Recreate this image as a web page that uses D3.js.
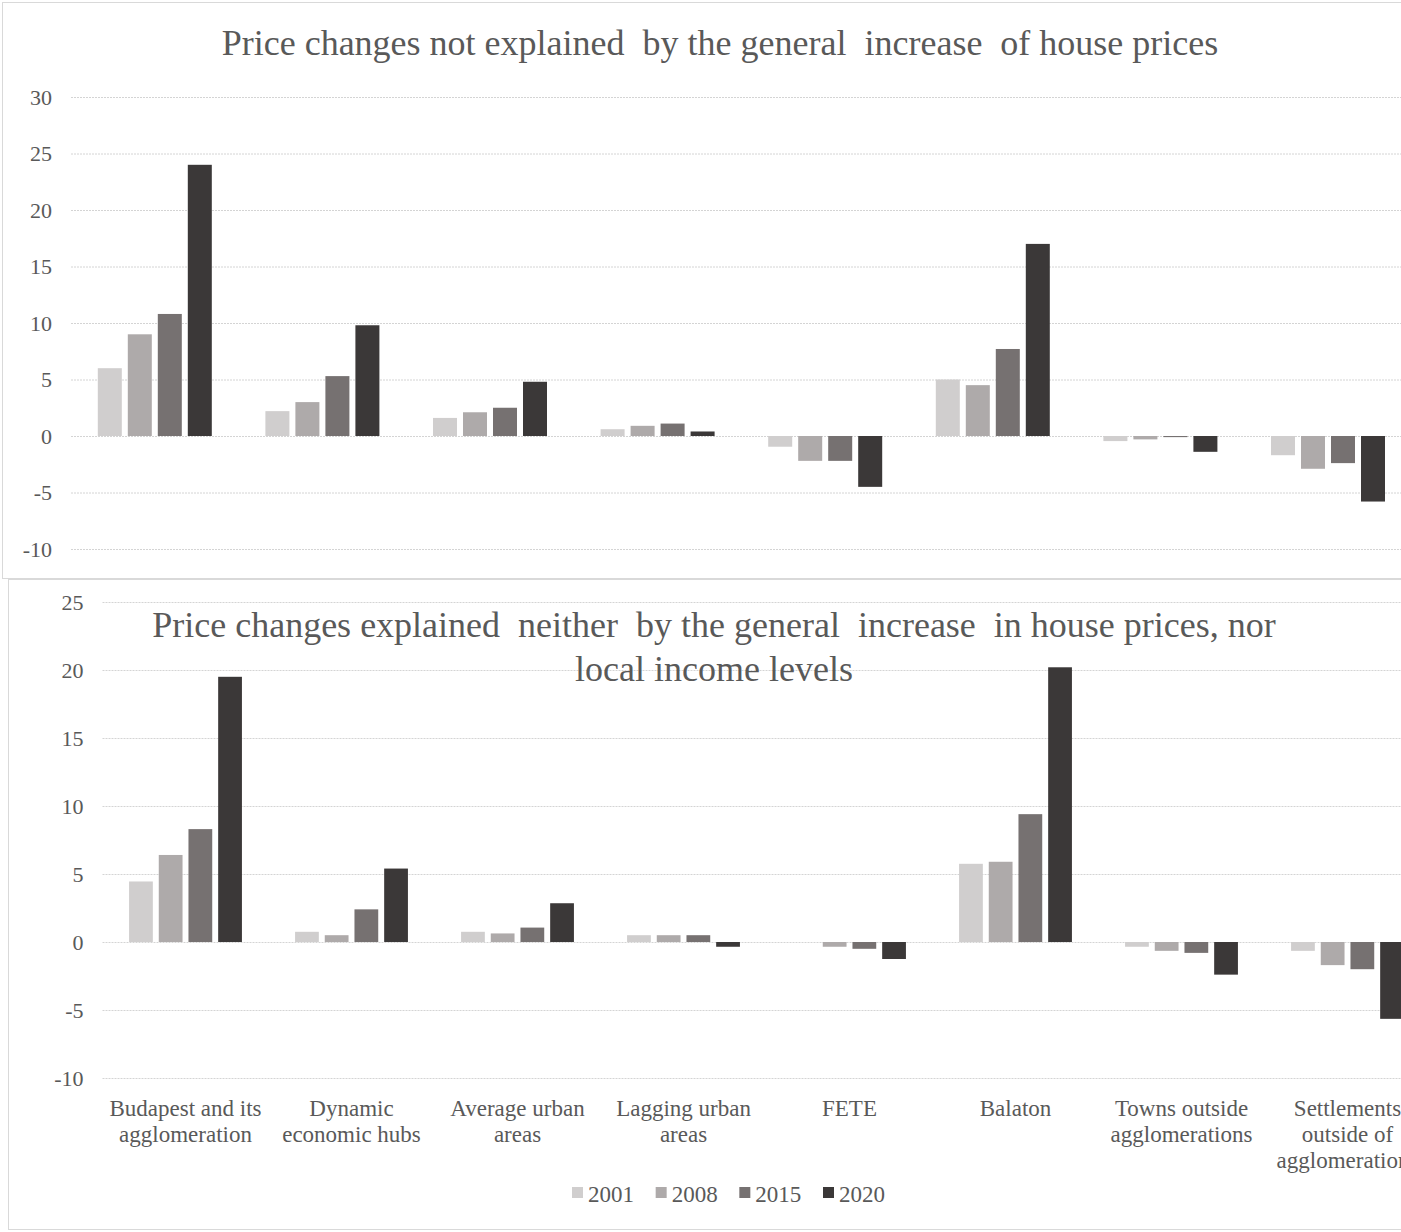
<!DOCTYPE html>
<html>
<head>
<meta charset="utf-8">
<script src="https://cdn.jsdelivr.net/npm/d3@7"></script>
<style>
  html, body { margin: 0; padding: 0; background: #fff; overflow: hidden; }
  svg { display: block; font-family: "Liberation Serif", "Times New Roman", serif; }
  text { white-space: pre; fill: #595959; }
</style>
</head>
<body>
<svg id="chart" width="1401" height="1232"></svg>
<script>
// ---- data ----
const categories = [
  "Budapest and its|agglomeration",
  "Dynamic|economic hubs",
  "Average urban|areas",
  "Lagging urban|areas",
  "FETE",
  "Balaton",
  "Towns outside|agglomerations",
  "Settlements|outside of|agglomerations"
];
const years = ["2001", "2008", "2015", "2020"];
const colors = ["#d0cece", "#aeaaaa", "#767171", "#3b3838"];

// Top chart: price changes not explained by the general increase of house prices
const top2001 = [6.0, 2.2, 1.6, 0.6, -0.95, 5.0, -0.45, -1.7];
const top2008 = [9.0, 3.0, 2.1, 0.9, -2.2, 4.5, -0.3, -2.9];
const top2015 = [10.8, 5.3, 2.5, 1.1, -2.2, 7.7, -0.1, -2.4];
const top2020 = [24.0, 9.8, 4.8, 0.4, -4.5, 17.0, -1.4, -5.8];

// Bottom chart: explained neither by general increase nor local income levels
const bot2001 = [4.45, 0.75, 0.75, 0.5, 0.0, 5.75, -0.35, -0.65];
const bot2008 = [6.4, 0.5, 0.63, 0.5, -0.35, 5.9, -0.65, -1.7];
const bot2015 = [8.3, 2.4, 1.06, 0.5, -0.5, 9.4, -0.8, -2.0];
const bot2020 = [19.5, 5.4, 2.85, -0.35, -1.25, 20.2, -2.4, -5.65];

const topTicks = [-10, -5, 0, 5, 10, 15, 20, 25, 30];
const botTicks = [-10, -5, 0, 5, 10, 15, 20, 25];

const topTitle = ["Price changes not explained  by the general  increase  of house prices"];
const botTitle = ["Price changes explained  neither  by the general  increase  in house prices, nor", "local income levels"];

// ---- drawing ----
const svg = d3.select("#chart");
const W = 1401;

// panel borders
svg.append("rect").attr("x", 2.5).attr("y", 2.5).attr("width", 1420).attr("height", 576)
  .attr("fill", "none").attr("stroke", "#d9d9d9");
svg.append("rect").attr("x", 8.5).attr("y", 579.5).attr("width", 1420).attr("height", 650)
  .attr("fill", "none").attr("stroke", "#d9d9d9");

function panel(cfg) {
  const g = svg.append("g");
  const x0 = d3.scaleBand().domain(categories)
    .range([cfg.left, cfg.left + cfg.step * categories.length])
    .paddingInner(0.284).paddingOuter(0.142);
  const x1 = d3.scaleBand().domain(years)
    .range([3, x0.bandwidth() - 3]).paddingInner(0.2);
  const y = d3.scaleLinear().domain(cfg.domain).range(cfg.range);

  // gridlines + tick labels through axis
  const ax = g.append("g").attr("transform", `translate(${cfg.left},0)`)
    .call(d3.axisLeft(y).tickValues(cfg.ticks).tickSize(-(W - cfg.left)).tickPadding(19)
      .tickFormat(d => String(d)));
  ax.select(".domain").remove();
  ax.selectAll(".tick line").attr("stroke", "#d4d4d4").attr("stroke-width", 1)
    .attr("stroke-dasharray", "2,1");
  ax.selectAll(".tick text").attr("fill", "#595959")
    .style("font-size", "22px").style("font-family", "Liberation Serif, serif");

  const series = cfg.series;
  const grp = g.selectAll(".grp").data(categories).join("g")
    .attr("transform", d => `translate(${x0(d)},0)`);
  grp.selectAll("rect").data((c, ci) => years.map((yr, yi) => ({ yr, yi, v: series[yi][ci] })))
    .join("rect")
    .attr("x", d => x1(d.yr))
    .attr("width", x1.bandwidth())
    .attr("y", d => y(Math.max(0, d.v)))
    .attr("height", d => Math.abs(y(d.v) - y(0)))
    .attr("fill", d => colors[d.yi]);

  // title
  const t = g.append("text").attr("text-anchor", "middle")
    .style("font-size", "36px").attr("fill", "#595959");
  cfg.title.forEach((line, i) => {
    t.append("tspan").attr("x", cfg.titleX).attr("y", cfg.titleY + i * 43.5).text(line);
  });

  return { x0, y, g };
}

panel({
  left: 71, step: 167.6, domain: [-10, 30], range: [549, 97],
  ticks: topTicks, series: [top2001, top2008, top2015, top2020],
  title: topTitle, titleX: 720, titleY: 55
});

const bottom = panel({
  left: 102.5, step: 166, domain: [-10, 25], range: [1078, 602],
  ticks: botTicks, series: [bot2001, bot2008, bot2015, bot2020],
  title: botTitle, titleX: 714, titleY: 637
});

// category axis (bottom chart)
const xa = svg.append("g").attr("transform", "translate(0,1078)")
  .call(d3.axisBottom(bottom.x0).tickSize(0).tickPadding(0));
xa.select(".domain").remove();
xa.selectAll(".tick text").each(function (d) {
  const el = d3.select(this);
  el.text(null).attr("y", 0).attr("dy", null)
    .style("font-size", "23px").style("font-family", "Liberation Serif, serif")
    .attr("fill", "#595959");
  d.split("|").forEach((line, i) => {
    el.append("tspan").attr("x", 0).attr("y", 38 + i * 26).text(line);
  });
});

// legend
const leg = svg.append("g").attr("transform", "translate(572,1202)");
const legX = d3.scalePoint().domain(years).range([0, 251]);
years.forEach((yr, i) => {
  const it = leg.append("g").attr("transform", `translate(${legX(yr)},0)`);
  it.append("rect").attr("x", 0).attr("y", -15).attr("width", 11).attr("height", 11)
    .attr("fill", colors[i]);
  it.append("text").attr("x", 16).attr("y", 0).style("font-size", "23px")
    .attr("fill", "#595959").text(yr);
});
</script>
</body>
</html>
